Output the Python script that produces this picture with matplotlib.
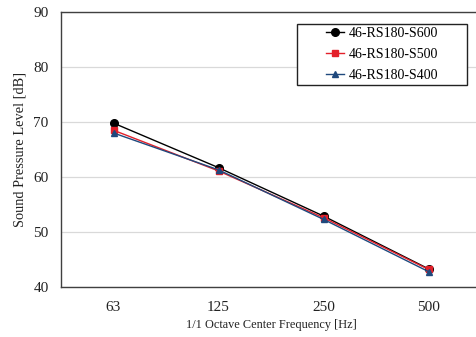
import matplotlib
matplotlib.use("Agg")
import matplotlib.pyplot as plt
from matplotlib.patches import Rectangle

freqs = ["63", "125", "250", "500"]
s600 = [69.8, 61.7, 52.9, 43.3]
s500 = [68.5, 61.1, 52.6, 43.2]
s400 = [68.0, 61.3, 52.3, 42.8]
labels = ["46-RS180-S600", "46-RS180-S500", "46-RS180-S400"]

plt.rcParams["font.family"] = ["Liberation Serif", "DejaVu Serif"]

fig = plt.figure(figsize=(4.77, 3.37), dpi=100)
ax = fig.add_axes([61 / 477, 1 - 287 / 337, (481 - 61) / 477, (287 - 12) / 337])

x = range(len(freqs))
ax.plot(x, s600, color="black", marker="o", ms=5.5, lw=1, label=labels[0])
ax.plot(x, s500, color="#e3202a", marker="s", ms=4.5, lw=1, label=labels[1])
ax.plot(x, s400, color="#1f497d", marker="^", ms=5, lw=1, label=labels[2])

ax.set_xlim(-0.5, 3.5)
ax.set_ylim(40, 90)
ax.set_yticks([40, 50, 60, 70, 80, 90])
ax.set_xticks(list(x))
ax.set_xticklabels(freqs)
ax.tick_params(axis="both", length=0, labelsize=11, colors="#222222")
ax.tick_params(axis="x", pad=10)
ax.tick_params(axis="y", pad=9)
ax.grid(axis="y", color="#d9d9d9", lw=0.9)
ax.set_axisbelow(True)
for sp in ax.spines.values():
    sp.set_color("#404040")
    sp.set_linewidth(1)

ax.set_xlabel("1/1 Octave Center Frequency [Hz]", fontsize=8.8, color="#222222", labelpad=4)
ax.set_ylabel("Sound Pressure Level [dB]", fontsize=10.4, color="#222222", labelpad=5)

# legend box drawn as in the source (wide side padding)
ax.add_patch(Rectangle((0.562, 0.735), 0.405, 0.221, transform=ax.transAxes,
                       facecolor="white", edgecolor="#222222", lw=1, zorder=4))
leg = ax.legend(loc="center", bbox_to_anchor=(0.7645, 0.8455), fontsize=10,
                frameon=False, handlelength=1.3, borderpad=0.2,
                labelspacing=0.55, handletextpad=0.3)
leg.set_zorder(5)

fig.savefig("out.png", dpi=100)
